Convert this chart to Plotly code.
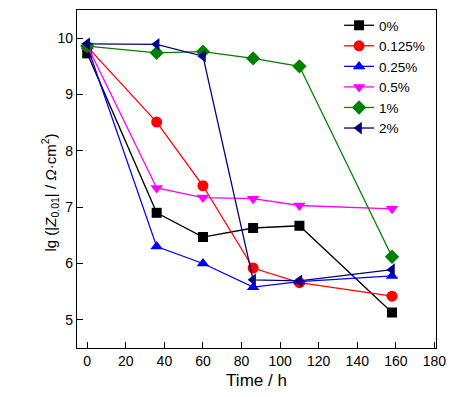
import plotly.graph_objects as go

time_h = [0, 36, 60, 86, 110, 158]
series_names = ["0%", "0.125%", "0.25%", "0.5%", "1%", "2%"]
s_0 = [9.73, 6.90, 6.47, 6.63, 6.67, 5.13]
s_0125 = [9.85, 8.51, 7.38, 5.92, 5.66, 5.42]
s_025 = [9.86, 6.30, 6.00, 5.58, 5.68, 5.78]
s_05 = [9.87, 7.34, 7.17, 7.15, 7.03, 6.97]
s_1 = [9.86, 9.74, 9.76, 9.64, 9.50, 6.12]
s_2 = [9.90, 9.89, 9.68, 5.71, 5.69, 5.89]
x_ticks = [0, 20, 40, 60, 80, 100, 120, 140, 160, 180]
y_ticks = [5, 6, 7, 8, 9, 10]

values = [s_0, s_0125, s_025, s_05, s_1, s_2]
colors = ["#000000", "#FF0000", "#0000FF", "#FF00FF", "#008000", "#000080"]
symbols = ["square", "circle", "triangle-up", "triangle-down", "diamond", "triangle-left"]
sizes = [10, 11, 11, 11, 11, 11]

fig = go.Figure()
for name, v, c, s, sz in zip(series_names, values, colors, symbols, sizes):
    fig.add_trace(go.Scatter(
        x=time_h, y=v, name=name, mode="lines+markers",
        line=dict(color=c, width=1.3),
        marker=dict(symbol=s, size=sz, color=c),
    ))

font = dict(family="Arial", size=14, color="#000000")
# page body has an 8px default margin; figure is sized to compensate
fig.update_layout(
    width=451, height=389,
    margin=dict(l=69, r=23, t=2, b=49),
    paper_bgcolor="white", plot_bgcolor="white",
    font=font,
    showlegend=True,
    legend=dict(x=0.73, y=1.0, xanchor="left", yanchor="top",
                bgcolor="rgba(0,0,0,0)", font=dict(family="Arial", size=13.5, color="#000000"),
                tracegroupgap=0, itemwidth=30),
    xaxis=dict(range=[-5.3, 180.8], tickvals=x_ticks, ticks="inside", ticklen=6,
               tickcolor="black", showgrid=False, zeroline=False, automargin=False,
               showline=True, linecolor="black", linewidth=1.3, mirror=True,
               title=dict(text="Time / h", standoff=6), tickfont=font),
    yaxis=dict(range=[4.5, 10.5], tickvals=y_ticks, ticks="inside", ticklen=6,
               tickcolor="black", showgrid=False, zeroline=False, automargin=False,
               showline=True, linecolor="black", linewidth=1.3, mirror=True,
               tickfont=font),
    annotations=[dict(
        text="lg (|<i>Z</i><sub>0.01</sub>| / <i>Ω</i>·cm<sup>2</sup>)",
        xref="paper", yref="paper", x=0, y=0.46, xshift=-27,
        xanchor="center", yanchor="middle", textangle=-90, showarrow=False,
        font=dict(family="Arial", size=15, color="#000000"),
    )],
)

fig.write_html("out.html")
